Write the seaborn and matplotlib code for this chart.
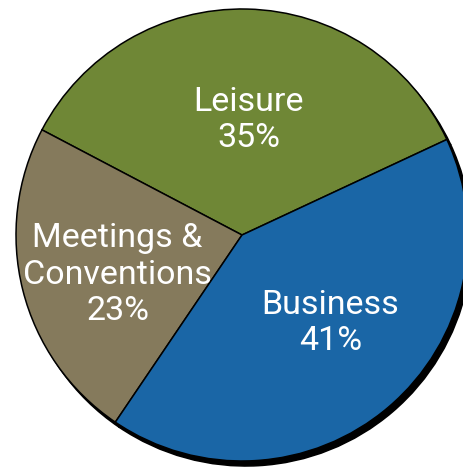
import matplotlib
matplotlib.use("Agg")
import matplotlib.pyplot as plt
import seaborn as sns

categories = ["Leisure", "Meetings &\nConventions", "Business"]
values = [35, 23, 41]
colors = ["#6f8736", "#857a5c", "#1a66a6"]

sns.set_theme(style="white")
plt.rcParams["font.family"] = ["Roboto", "DejaVu Sans"]

W, H = 463, 470
fig = plt.figure(figsize=(W / 100, H / 100), dpi=100)
cx, cy, r = 242, 235, 226
ax = fig.add_axes([(cx - r) / W, (H - cy - r) / H, 2 * r / W, 2 * r / H])

labels = [f"{c}\n{v}%" for c, v in zip(categories, values)]
wedges, texts = ax.pie(
    values,
    labels=labels,
    colors=colors,
    startangle=25,
    counterclock=True,
    labeldistance=0.54,
    radius=1,
    wedgeprops=dict(edgecolor="black", linewidth=1.1),
    textprops=dict(color="white", fontsize=24.5),
    shadow=dict(ox=0.012, oy=-0.016, shade=1.0, alpha=1.0),
)
# small label nudges (in axes data units) to match the reference layout
nudges = [(0.018, -0.031), (-0.027, -0.044), (0.04, 0.022)]
for t, (dx, dy) in zip(texts, nudges):
    x, y = t.get_position()
    t.set_position((x + dx, y + dy))
    t.set_ha("center")
    t.set_va("center")
    t.set_multialignment("center")
    t.set_linespacing(1.18)

ax.set_xlim(-1, 1)
ax.set_ylim(-1, 1)
ax.set_aspect("auto")
ax.axis("off")
for p in ax.patches:
    p.set_clip_on(False)

fig.savefig("out.png", dpi=100)
